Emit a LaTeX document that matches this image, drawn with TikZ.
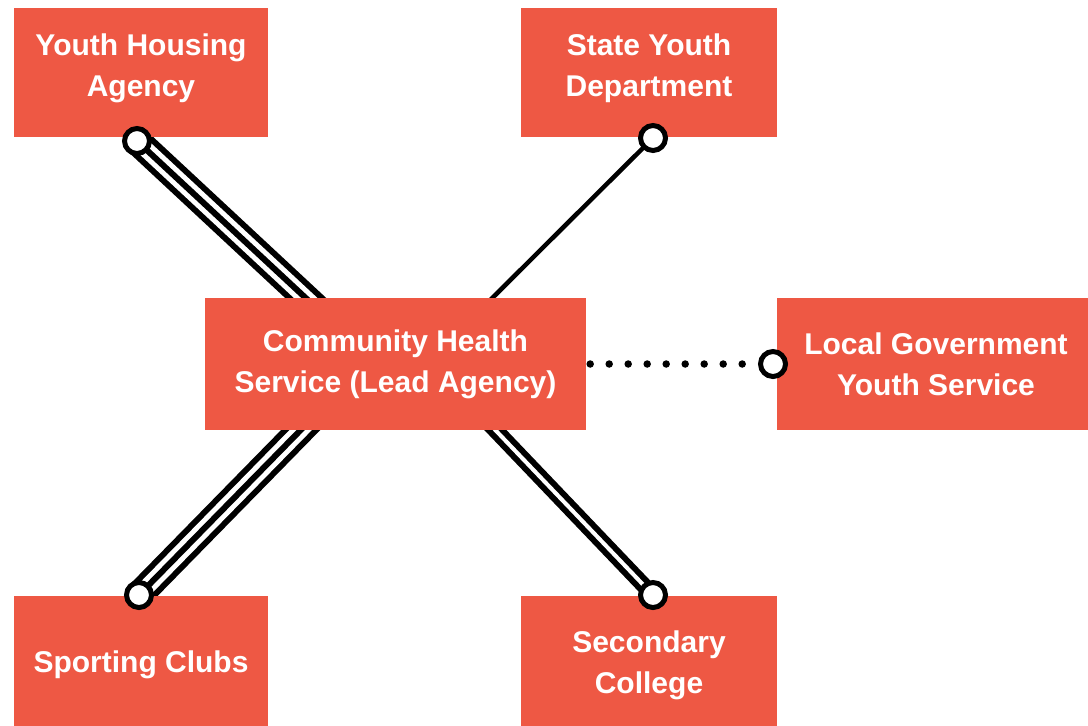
\documentclass[tikz,border=0pt]{standalone}
\usepackage{fontspec}
\setmainfont{Liberation Sans}
\usetikzlibrary{backgrounds}
\definecolor{boxred}{RGB}{238,88,68}
\newcommand{\lifttext}{\rule[-14.5pt]{0pt}{0pt}}

\begin{document}
\begin{tikzpicture}[x=1pt,y=-1pt]

\tikzset{box/.style = {rectangle, fill=boxred, text=white, align=center, inner sep=0pt, font=\fontsize{30}{41}\selectfont\bfseries}}
\tikzset{ring/.style = {circle, draw, fill=white, line width=5pt, minimum size=25pt, inner sep=0pt}}
\tikzset{single/.style = {line width=4.5pt}}
\tikzset{twin/.style = {line width=6pt, double=white, double distance=4pt}}
\tikzset{triple/.style = {line width=28pt, postaction={draw, white, line width=16pt}, postaction={draw, black, line width=6pt}}}
\tikzset{dots/.style = {line width=7.5pt, line cap=round, dash pattern=on 0pt off 19pt}}

\useasboundingbox (0,0) rectangle (1088,726);
%boxes
\node[box, minimum width=254pt, minimum height=129pt] (yha) at (141,72.5) {Youth Housing\\Agency\lifttext};
\node[box, minimum width=256pt, minimum height=129pt] (syd) at (649,72.5) {State Youth\\Department\lifttext};
\node[box, minimum width=381pt, minimum height=132pt] (chs) at (395.5,364) {Community Health\\Service (Lead Agency)};
\node[box, minimum width=318pt, minimum height=132pt] (lgy) at (936,364) {Local Government\\Youth Service};
\node[box, minimum width=254pt, minimum height=138pt] (spc) at (141,665) {Sporting Clubs};
\node[box, minimum width=256pt, minimum height=138pt] (sec) at (649,665) {Secondary\\College};
%rings
\node[ring] (yhaR) at (137,141) {};
\node[ring] (sydR) at (653,138) {};
\node[ring] (lgyR) at (773,364) {};
\node[ring] (spcR) at (139,595) {};
\node[ring] (secR) at (653,595) {};
%links
\begin{scope}[on background layer]
\fill[white] (0,0) rectangle (1088,726);
\draw [triple] (yhaR.center) -- ([xshift=-90pt]chs.north) [shorten >=-16pt];
\draw [single] (sydR.center) -- ([xshift=97pt]chs.north) [shorten >=-6pt];
\draw [triple] (spcR.center) -- ([xshift=-95pt]chs.south) [shorten >=-16pt];
\draw [twin] (secR.center) -- ([xshift=100pt]chs.south) [shorten >=-10pt];
\draw [dots, shorten <=4pt] (chs.east) -- (lgyR);
\end{scope}

\end{tikzpicture}
\end{document}
